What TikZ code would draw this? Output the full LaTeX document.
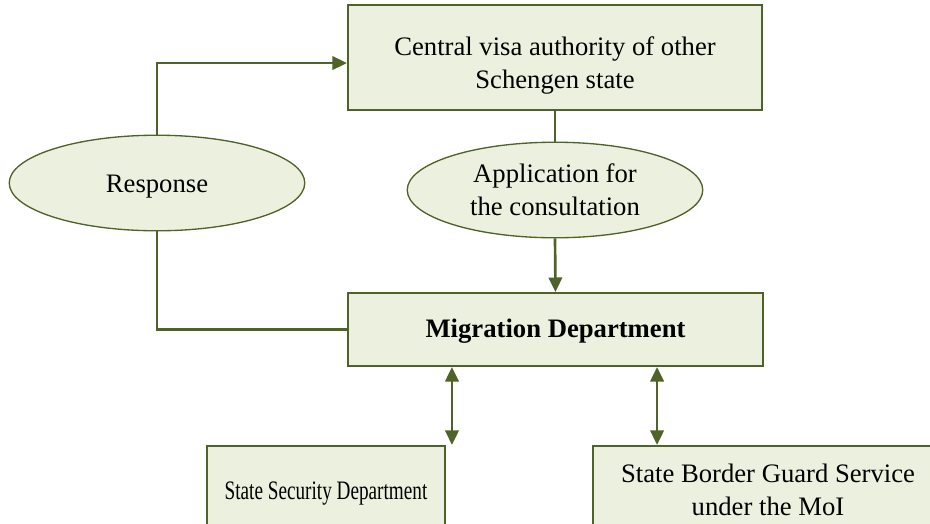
\documentclass[tikz,border=0pt]{standalone}
\usepackage{fontspec}
\setmainfont{Liberation Serif}
\usetikzlibrary{arrows.meta,shapes.geometric}
\definecolor{olivedark}{HTML}{4F6228}
\definecolor{olivelight}{HTML}{EBF1DE}

\begin{document}
\begin{tikzpicture}[x=0.45pt,y=-0.45pt,
  box/.style={draw=olivedark, line width=1pt, fill=olivelight, align=center, inner sep=0pt, font=\fontsize{12}{14.9}\selectfont},
  oval/.style={ellipse, draw=olivedark, line width=0.6pt, fill=olivelight, align=center, inner sep=0pt, minimum width=133pt, minimum height=43pt, font=\fontsize{12}{14.9}\selectfont},
  link/.style={draw=olivedark, line width=1.2pt},
  tip/.style={-{Triangle[length=6.5pt,width=6pt]}},
  tips/.style={{Triangle[length=6.5pt,width=6pt]}-{Triangle[length=6.5pt,width=6pt]}}]
\useasboundingbox (0,0) rectangle (930,523);
\clip (0,0) rectangle (930,523);
% boxes and ovals
\node[box, minimum width=186.3pt, minimum height=47.2pt] (cva) at (555,57.5) {\rule{0pt}{16pt}Central visa authority of other\\Schengen state};
\node[oval] (resp) at (157,183) {\rule{0pt}{11pt}Response};
\node[oval] (app) at (555,190) {Application for\\the consultation};
\node[box, minimum width=186.7pt, minimum height=32.8pt] (mig) at (555.5,329.5) {\rule{0pt}{10pt}\textbf{Migration Department}};
\node[box, minimum width=107.1pt, minimum height=39.6pt] (ssd) at (326,490) {\rule{0pt}{11pt}\scalebox{0.72}[1]{State Security Department}};
\node[box, minimum width=157.5pt, minimum height=39.6pt] (sbg) at (768,490) {State Border Guard Service\\under the MoI};
% connectors
\draw[link,tip] (resp.north) |- ([yshift=-2.5pt]cva.west);
\draw[link] (resp.south) |- (mig.west);
\draw[link] (cva.south) -- (app.north);
\draw[link,tip] (app.south) -- (mig.north);
\draw[link,tips] ([xshift=-46.6pt]mig.south) -- ([xshift=-46.6pt]mig.south |- ssd.north);
\draw[link,tips] ([xshift=45.7pt]mig.south) -- ([xshift=45.7pt]mig.south |- sbg.north);
\end{tikzpicture}
\end{document}
